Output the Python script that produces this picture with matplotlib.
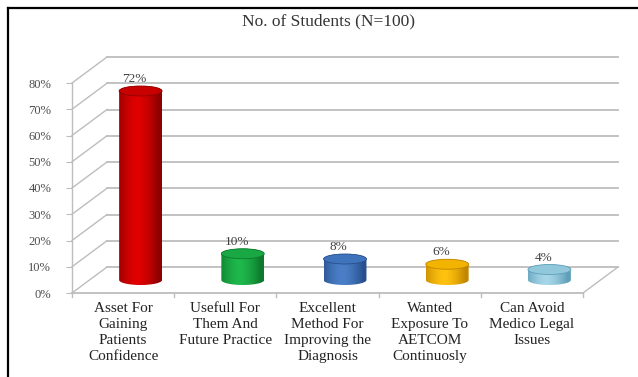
import numpy as np
import matplotlib
matplotlib.use("Agg")
import matplotlib.pyplot as plt
from matplotlib.transforms import offset_copy, IdentityTransform
from matplotlib.patches import Ellipse, PathPatch
from matplotlib.path import Path
from matplotlib.lines import Line2D
from matplotlib.colors import to_rgb

# ---- data ----
categories = [
    "Asset For\nGaining\nPatients\nConfidence",
    "Usefull For\nThem And\nFuture Practice",
    "Excellent\nMethod For\nImproving the\nDiagnosis",
    "Wanted\nExposure To\nAETCOM\nContinuosly",
    "Can Avoid\nMedico Legal\nIssues",
]
values = [72, 10, 8, 6, 4]
value_labels = ["72%", "10%", "8%", "6%", "4%"]
yticks = [0, 10, 20, 30, 40, 50, 60, 70, 80]
ytick_labels = ["0%", "10%", "20%", "30%", "40%", "50%", "60%", "70%", "80%"]
title = "No. of Students (N=100)"

# ---- styles ----
side_cols = ["#8e0000", "#0d7a2c", "#284f8c", "#c28600", "#5f9fb8"]
mid_cols = ["#e00000", "#1fb84d", "#4a7fc8", "#ffc20e", "#a6d6e8"]
top_cols = ["#c80000", "#1aa845", "#3f73bb", "#f2b400", "#92c8dc"]
grid_col = "#bdbdbd"
serif = ["Liberation Serif", "DejaVu Serif"]

W, H, DPI = 638, 377, 100
fig = plt.figure(figsize=(W / DPI, H / DPI), dpi=DPI)
fig.patch.set_facecolor("white")

# front plot region (pixels)
x0p, x1p, y0p, y1p = 72, 583, 293, 83
ax = fig.add_axes([x0p / W, 1 - y0p / H, (x1p - x0p) / W, (y0p - y1p) / H])
ax.set_xlim(-0.5, len(values) - 0.5)
ax.set_ylim(0, 80)
ax.set_facecolor("none")
for s in ax.spines.values():
    s.set_visible(False)

DX, DY = 35, 26  # depth offset in pixels
back = offset_copy(ax.transData, fig=fig, x=DX, y=DY, units="dots")
mid = offset_copy(ax.transData, fig=fig, x=DX / 2, y=DY / 2, units="dots")

xmin, xmax = ax.get_xlim()

# back wall gridlines
for v in yticks:
    ax.plot([xmin, xmax], [v, v], color=grid_col, lw=1.3, transform=back,
            clip_on=False, zorder=1)
    # side wall diagonals
    p0 = ax.transData.transform((xmin, v))
    fig.add_artist(Line2D([p0[0], p0[0] + DX], [p0[1], p0[1] + DY],
                          transform=IdentityTransform(), color=grid_col, lw=1.0, zorder=1))

# floor front edge and right diagonal
ax.plot([xmin, xmax], [0, 0], color=grid_col, lw=1.3, clip_on=False, zorder=1)
p0 = ax.transData.transform((xmax, 0))
fig.add_artist(Line2D([p0[0], p0[0] + DX], [p0[1], p0[1] + DY],
                      transform=IdentityTransform(), color=grid_col, lw=1.0, zorder=1))
# floor ticks at category boundaries
for b in np.arange(xmin, xmax + 0.01, 1.0):
    p = ax.transData.transform((b, 0))
    fig.add_artist(Line2D([p[0], p[0]], [p[1], p[1] - 4],
                          transform=IdentityTransform(), color=grid_col, lw=1.0))

# left axis line and ticks
ax.plot([xmin, xmin], [0, 80], color=grid_col, lw=1.0, clip_on=False)
ax.set_yticks(yticks)
ax.set_yticklabels(ytick_labels, fontsize=9, family=serif, color="#4d4d4d")
ax.tick_params(axis="y", length=4, color=grid_col, pad=11)
ax.set_xticks([])

# cylinders
bw = 0.42
eh_px = 10
eh = eh_px / (y0p - y1p) * 80  # ellipse height in data units
t = np.linspace(0, np.pi, 40)
for i, (v, sc, mc, tc) in enumerate(zip(values, side_cols, mid_cols, top_cols)):
    xl, xr = i - bw / 2, i + bw / 2
    bot_x = i - bw / 2 * np.cos(t)
    bot_y = 0 - eh / 2 * np.sin(t)
    top_x = i + bw / 2 * np.cos(t)
    top_y = v + eh / 2 * np.sin(t)
    xs = np.concatenate([[xl], bot_x, [xr], top_x])
    ys = np.concatenate([[v], bot_y, [v], top_y])
    path = Path(np.column_stack([xs, ys]))
    clip = PathPatch(path, transform=mid, facecolor="none", edgecolor="none")
    ax.add_patch(clip)
    n = 64
    u = np.linspace(-1, 1, n)
    w = np.clip(1 - np.abs(u + 0.15) ** 1.6, 0, 1)
    c1, c2 = np.array(to_rgb(sc)), np.array(to_rgb(mc))
    grad = c1[None, :] * (1 - w[:, None]) + c2[None, :] * w[:, None]
    img = np.repeat(grad[None, :, :], 2, axis=0)
    im = ax.imshow(img, extent=[xl, xr, -eh / 2, v + eh / 2], transform=mid,
                   aspect="auto", interpolation="bilinear", zorder=3)
    im.set_clip_path(clip)
    ax.add_patch(Ellipse((i, v), bw, eh, transform=mid, facecolor=tc,
                         edgecolor=sc, lw=0.6, zorder=4))
    ax.text(i - 0.06, v + eh / 2 + 0.3, value_labels[i], transform=mid,
            ha="center", va="bottom", fontsize=9.5, family=serif, color="#404040",
            zorder=5)

ax.set_xlim(xmin, xmax)
ax.set_ylim(0, 80)

# category labels
for i, lab in enumerate(categories):
    ax.text(i, -3.5, lab, ha="center", va="top", fontsize=11, family=serif,
            color="#222222", linespacing=1.28, clip_on=False)

# title
fig.text(329 / W, 1 - 21 / H, title, ha="center", va="center", fontsize=12.5,
         family=serif, color="#333333")

# frame
fig.add_artist(Line2D([8 / W, 1], [1 - 8 / H, 1 - 8 / H], color="black", lw=1.6,
                      transform=fig.transFigure))
fig.add_artist(Line2D([8 / W, 8 / W], [0, 1 - 8 / H], color="black", lw=1.6,
                      transform=fig.transFigure))

fig.savefig("out.png", dpi=DPI, facecolor="white")
